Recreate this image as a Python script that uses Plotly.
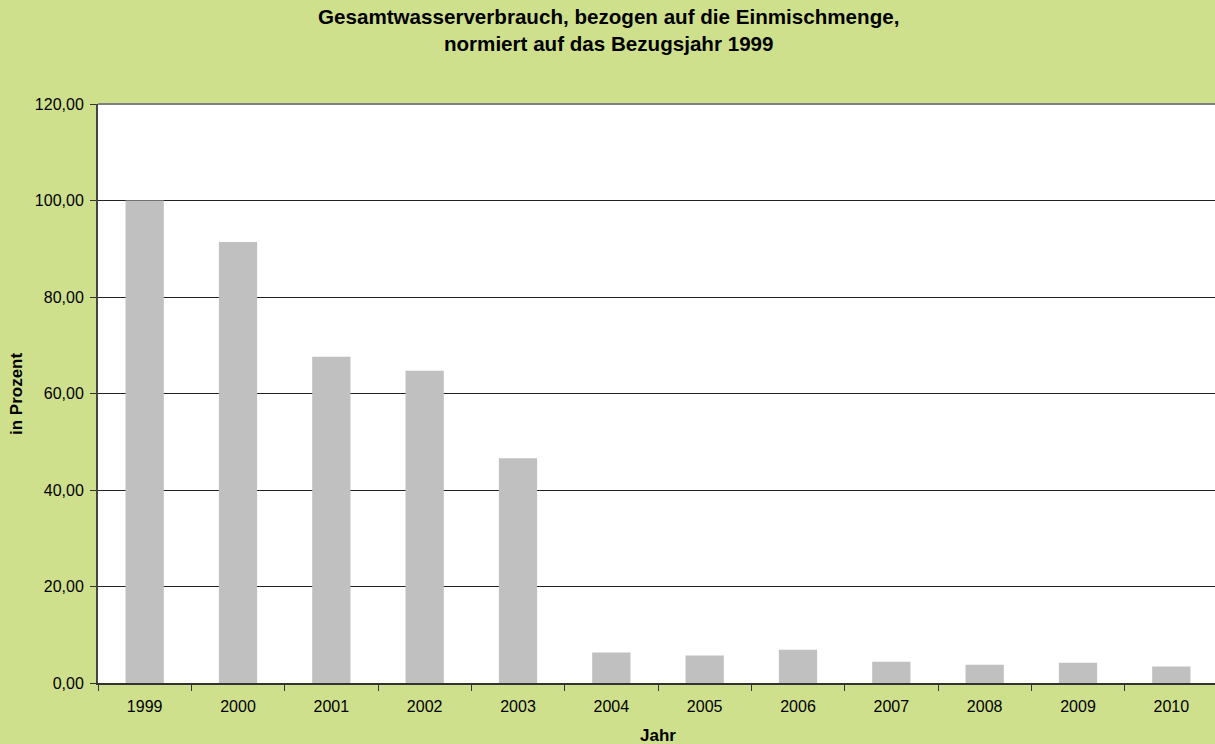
import plotly.graph_objects as go

years = ["1999", "2000", "2001", "2002", "2003", "2004", "2005", "2006", "2007", "2008", "2009", "2010"]
values = [100.0, 91.4, 67.6, 64.7, 46.6, 6.3, 5.7, 6.9, 4.4, 3.8, 4.2, 3.4]
y_ticks = [0, 20, 40, 60, 80, 100, 120]

BG = "#CFE08D"
FONT = "Liberation Sans, Arial, sans-serif"

PL, PT, PB = 98, 104, 683
PW = 1117
PH = PB - PT

fig = go.Figure()
fig.add_trace(go.Bar(
    x=years, y=values, marker=dict(color="#C0C0C0", line=dict(width=0)),
    width=0.41, hoverinfo="x+y"))

fig.update_layout(
    width=1215, height=744,
    paper_bgcolor=BG, plot_bgcolor="white",
    margin=dict(l=PL, r=0, t=PT, b=744 - PB),
    separators=",.",
    showlegend=False,
    font=dict(family=FONT, color="black", size=16),
    annotations=[
        dict(text="<b>Gesamtwasserverbrauch, bezogen auf die Einmischmenge,<br>normiert auf das Bezugsjahr 1999</b>",
             xref="paper", yref="paper", x=(608 - PL) / PW, y=1 + (PT - 30) / PH,
             yanchor="middle", xanchor="center", showarrow=False,
             font=dict(size=20.6, family=FONT)),
        dict(text="<b>in Prozent</b>", xref="paper", yref="paper",
             x=-(PL - 17) / PW, y=(PB - 394) / PH, textangle=-90, showarrow=False,
             xanchor="center", yanchor="middle", font=dict(size=17, family=FONT)),
        dict(text="<b>Jahr</b>", xref="paper", yref="paper",
             x=(658 - PL) / PW, y=-(735 - PB) / PH, showarrow=False,
             xanchor="center", yanchor="middle", font=dict(size=17, family=FONT)),
    ],
    shapes=[
        dict(type="line", xref="paper", yref="paper", x0=0, x1=1, y0=1, y1=1,
             line=dict(color="#808080", width=2)),
    ],
)

fig.update_xaxes(
    type="category", range=[-0.5, 11.5 - 3 / 93.3],
    showline=True, linecolor="#333333", linewidth=2,
    ticks="outside", ticklen=6, tickcolor="#333333", tickson="boundaries",
    ticklabelstandoff=8,
    showgrid=False, tickfont=dict(size=16, family=FONT),
)
fig.update_yaxes(
    range=[0, 120], tickvals=y_ticks, tickformat=".2f",
    showline=True, linecolor="#444444", linewidth=2,
    ticks="outside", ticklen=6, tickcolor="#333333",
    ticklabelstandoff=3,
    showgrid=True, gridcolor="#222222", gridwidth=1, zeroline=False,
    tickfont=dict(size=16, family=FONT),
)

fig.write_html("out.html", config={"displayModeBar": False})

with open("out.html", "r", encoding="utf-8") as f:
    html = f.read()
html = html.replace("<head>", "<head><style>html,body{margin:0;padding:0;overflow:hidden;}</style>", 1)
with open("out.html", "w", encoding="utf-8") as f:
    f.write(html)
